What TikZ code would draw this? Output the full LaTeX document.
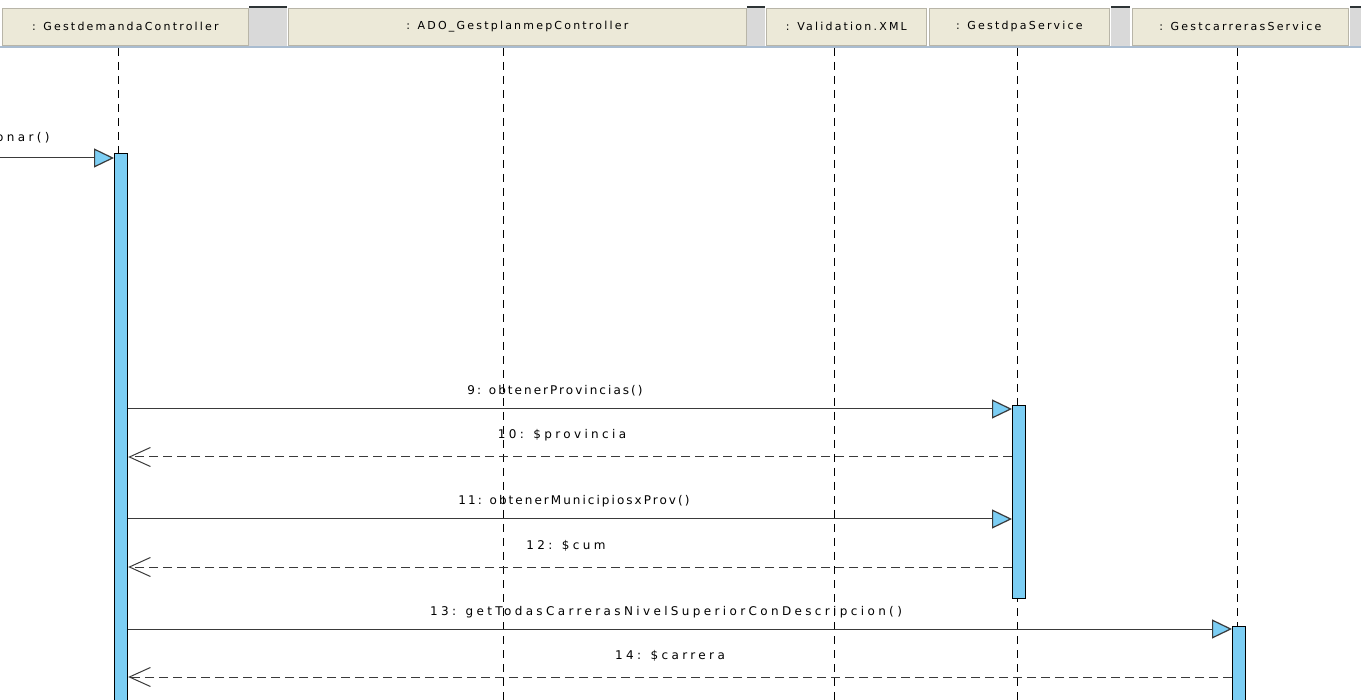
\documentclass[tikz,border=0pt]{standalone}
\usepackage{fontspec}
\usetikzlibrary{arrows.meta}
\newfontfamily\hdrfont{DejaVu Sans}[LetterSpace=20]
\newfontfamily\msgfont{DejaVu Sans}[LetterSpace=17]
\newfontfamily\msgwidefont{DejaVu Sans}[LetterSpace=28]

\definecolor{hdrfill}{HTML}{ECE9D8}
\definecolor{hdredge}{HTML}{B8B5A8}
\definecolor{sepfill}{HTML}{D9D9D9}
\definecolor{sepcap}{HTML}{2E3436}
\definecolor{hdrrule}{HTML}{A9BCD0}
\definecolor{barblue}{HTML}{7CCEF4}
\definecolor{msgline}{HTML}{3A3A3A}

\tikzset{
  hdrbox/.style={draw=hdredge, fill=hdrfill, line width=0.8pt, inner sep=0pt,
    anchor=north west, minimum height=37pt, font=\hdrfont\fontsize{11}{13}\selectfont},
  sepbox/.style={fill=sepfill, draw=none, inner sep=0pt, anchor=north west,
    minimum height=39pt},
  sepcapline/.style={draw=sepcap, line width=1.6pt},
  lifeline/.style={draw=black, line width=0.9pt, dash pattern=on 8pt off 6pt},
  actbar/.style={draw=black, fill=barblue, line width=1.2pt, inner sep=0pt,
    anchor=north west, minimum width=13pt},
  sync/.style={draw=msgline, line width=1pt,
    -{Triangle[length=20pt, width=19pt, fill=barblue, line width=1.2pt]}},
  ret/.style={draw=msgline, line width=1pt, dash pattern=on 9pt off 5pt,
    -{Straight Barb[length=21pt, width=19pt, line width=1pt]}},
  lbl/.style={anchor=base, inner sep=0pt, text=black,
    font=\msgfont\fontsize{12}{14}\selectfont},
  widelbl/.style={lbl, font=\msgwidefont\fontsize{12}{14}\selectfont}
}

\begin{document}
\begin{tikzpicture}[x=1pt, y=-1pt]
  \useasboundingbox (0,0) rectangle (1361,700);
  \clip (0,0) rectangle (1361,700);
  \fill[white] (0,0) rectangle (1361,700);

  % header strip: object heads and grey spacers
  \node[hdrbox, minimum width=246pt] (h1) at (2,8) {: GestdemandaController};
  \node[sepbox, minimum width=38pt] (g1) at (249,7) {};
  \node[hdrbox, minimum width=458pt] (h2) at (288,8) {: ADO\_GestplanmepController};
  \node[sepbox, minimum width=18pt] (g2) at (747,7) {};
  \node[hdrbox, minimum width=160pt] (h3) at (766,8) {: Validation.XML};
  \node[hdrbox, minimum width=180pt] (h4) at (929,8) {: GestdpaService};
  \node[sepbox, minimum width=19pt] (g3) at (1111,7) {};
  \node[hdrbox, minimum width=216pt] (h5) at (1132,8) {: GestcarrerasService};
  \node[sepbox, minimum width=20pt] (g4) at (1350,7) {};
  \foreach \g in {g1,g2,g3,g4}{
    \draw[sepcapline] (\g.north west) -- (\g.north east);
    \draw[sepcapline] (\g.south west) -- (\g.south east);
  }
  \draw[hdrrule, line width=1.6pt] (0,47) -- (1361,47);

  % lifelines
  \coordinate (l1) at (118,48);
  \coordinate (l2) at (503,48);
  \coordinate (l3) at (834,48);
  \coordinate (l4) at (1017,48);
  \coordinate (l5) at (1237,48);
  \coordinate (bottom) at (0,702);
  \foreach \l in {l1,l2,l3,l4,l5}
    \draw[lifeline] (\l) -- (\l |- bottom);

  % activation bars
  \node[actbar, minimum height=560pt] (a1) at (114,153) {};
  \node[actbar, minimum height=193pt] (a2) at (1012,405) {};
  \node[actbar, minimum height=100pt] (a3) at (1232,626) {};

  % message rows
  \coordinate (in0) at (-5,158);
  \coordinate (m9) at (0,409);
  \coordinate (m10) at (0,457);
  \coordinate (m11) at (0,519);
  \coordinate (m12) at (0,567);
  \coordinate (m13) at (0,629);
  \coordinate (m14) at (0,677);

  \draw[sync] (in0) -- (in0 -| a1.west);
  \draw[sync] (m9 -| a1.east) -- (m9 -| a2.west);
  \draw[ret]  (m10 -| a2.west) -- (m10 -| a1.east);
  \draw[sync] (m11 -| a1.east) -- (m11 -| a2.west);
  \draw[ret]  (m12 -| a2.west) -- (m12 -| a1.east);
  \draw[sync] (m13 -| a1.east) -- (m13 -| a3.west);
  \draw[ret]  (m14 -| a3.west) -- (m14 -| a1.east);

  % message labels
  \node[widelbl, anchor=base west] (t0) at (-4,142) {onar()};
  \node[lbl]     (t9)  at (555,395) {9: obtenerProvincias()};
  \node[widelbl] (t10) at (562,439) {10: \$provincia};
  \node[lbl]     (t11) at (574,505) {11: obtenerMunicipiosxProv()};
  \node[widelbl] (t12) at (566,549) {12: \$cum};
  \node[widelbl] (t13) at (666,615) {13: getTodasCarrerasNivelSuperiorConDescripcion()};
  \node[widelbl] (t14) at (670,659) {14: \$carrera};
\end{tikzpicture}
\end{document}
